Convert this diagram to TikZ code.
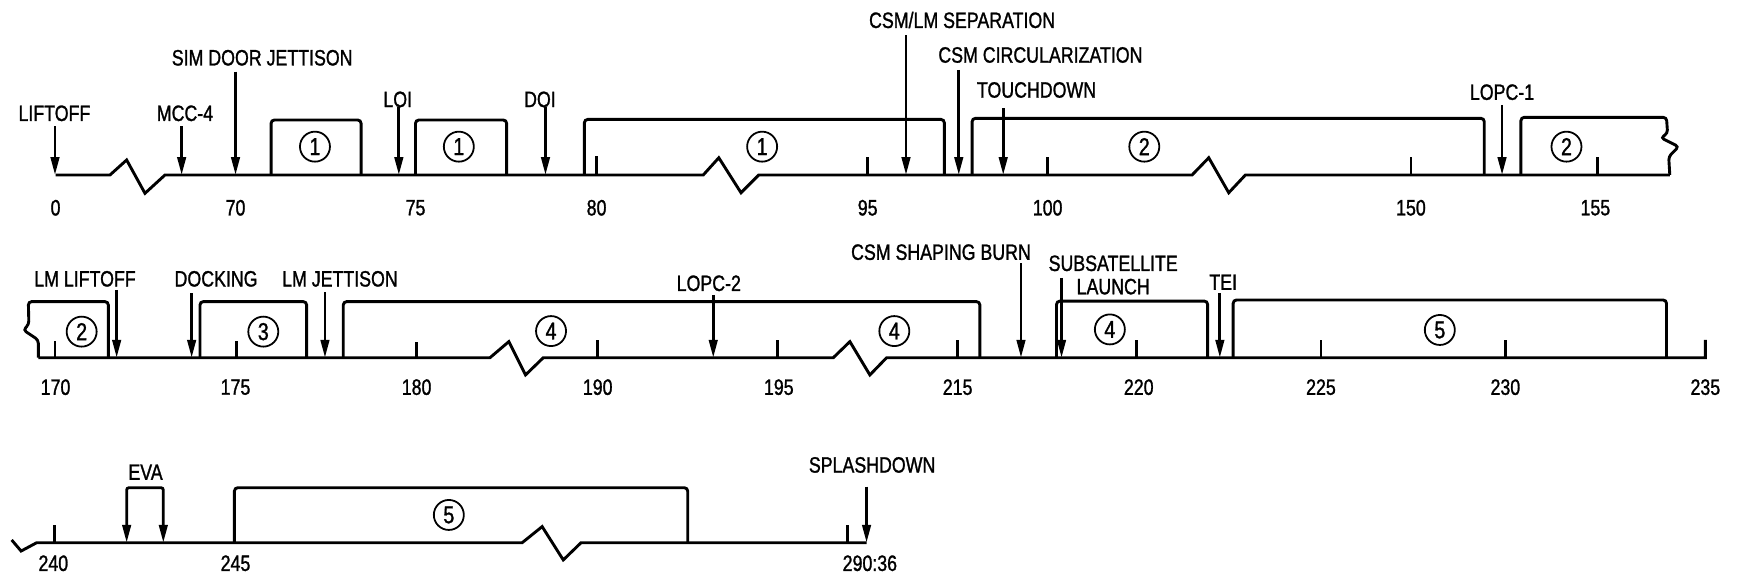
\documentclass[tikz,border=0pt]{standalone}
\usepackage{fontspec}
\setmainfont{Liberation Sans}[FakeStretch=0.8,FakeBold=1.2]
\usetikzlibrary{arrows.meta}
\tikzset{every picture/.style={line width=1.3pt}}
\tikzset{
evt/.style={line width=1.25pt,-{Triangle[length=8pt,width=3.8pt]}},
evtboth/.style={line width=1.25pt,{Triangle[length=8pt,width=3.8pt]}-{Triangle[length=8pt,width=3.8pt]}},
phase/.style={line width=1.3pt,rounded corners=1.5pt},
tickmark/.style={line width=1.1pt},
lbl/.style={font=\fontsize{10}{10.5}\selectfont,inner sep=1pt,align=center},
num/.style={font=\fontsize{10}{10}\selectfont,inner sep=1pt},
badge/.style={draw,circle,line width=0.8pt,minimum size=13.5pt,inner sep=0pt,font=\fontsize{11}{11}\selectfont}}

\begin{document}
\begin{tikzpicture}[x=0.5pt,y=0.5pt,yscale=-1,xscale=1]
\useasboundingbox (0,0) rectangle (1568,525.6);

% row baselines
\coordinate (r1) at (0,157.5);
\coordinate (r2) at (0,322);
\coordinate (r3) at (0,488.5);

%Shape: Axis row 1 [with breaks]
\draw (50,157.5) -- (99,157.5) -- (114,144) -- (130.5,174) -- (148.5,157.5) -- (633,157.5) -- (647,142) -- (667,173.5) -- (683,157.5) -- (1073,157.5) -- (1088,142) -- (1106,173.5) -- (1121,157.5) -- (1503,157.5) ;
%Shape: Axis row 2
\draw (34.5,322) -- (441,322) -- (458,307.5) -- (473,337.5) -- (489,322) -- (750,322) -- (765,307.5) -- (783,337.5) -- (798,322) -- (1535,322) -- (1535,306) ;
%Shape: Axis row 3
\draw (10.5,486) -- (19,496) -- (33,488.5) -- (470,488.5) -- (488,474) -- (507,504) -- (523,488.5) -- (780,488.5) ;

%Shape: Ticks
\draw[tickmark] (537,157.5) -- ++(0,-17) (781,157.5) -- ++(0,-16) (943,157.5) -- ++(0,-16) (1270,157.5) -- ++(0,-16) (1438,157.5) -- ++(0,-16) ;
\draw[tickmark] (49.5,322) -- ++(0,-15) (213,322) -- ++(0,-15) (375,322) -- ++(0,-14) (538,322) -- ++(0,-16) (700,322) -- ++(0,-16) (862,322) -- ++(0,-16) (1023,322) -- ++(0,-16) (1189,322) -- ++(0,-16) (1355,322) -- ++(0,-16) ;
\draw[tickmark] (49,488.5) -- ++(0,-16) (763,488.5) -- ++(0,-16) ;

%Shape: Phase boxes row 1
\draw[phase] (244,157.5) |- (325,108) -- (325,157.5) ;
\draw[phase] (374,157.5) |- (456,108) -- (456,157.5) ;
\draw[phase] (526,157.5) |- (850,107.5) -- (850,157.5) ;
\draw[phase] (875,157.5) |- (1336,106.5) -- (1336,157.5) ;
\draw[phase] (1369,157.5) |- (1500,105.6) -- (1501,120) -- (1495,124) -- (1511,132) -- (1502,141) -- (1503,157.5) ;
%Shape: Phase boxes row 2
\draw[phase] (97.5,322) |- (25.5,271.5) -- (26,292) -- (21,297) -- (34.5,306) -- (34.5,322) ;
\draw[phase] (180,322) |- (276,271.5) -- (276,322) ;
\draw[phase] (309,322) |- (882,271.5) -- (882,322) ;
\draw[phase] (951,322) |- (1087,271) -- (1087,322) ;
\draw[phase] (1110,322) |- (1500,270) -- (1500,322) ;
%Shape: Phase box row 3
\draw[phase] (211,488.5) |- (619,439) -- (619,488.5) ;

% Circled phase numbers
\node[badge] (p1a) at (283.5,132) {1};
\node[badge] (p1b) at (413,132) {1};
\node[badge] (p1c) at (686,132) {1};
\node[badge] (p2a) at (1030,132) {2};
\node[badge] (p2b) at (1410,132) {2};
\node[badge] (p2c) at (73.5,298.5) {2};
\node[badge] (p3) at (237,298.5) {3};
\node[badge] (p4a) at (496,298) {4};
\node[badge] (p4b) at (805,298) {4};
\node[badge] (p4c) at (999,296.5) {4};
\node[badge] (p5a) at (1296,297) {5};
\node[badge] (p5b) at (404,463.5) {5};

% Text Node
\node[lbl] (tLift) at (49,102) {LIFTOFF};
\node[lbl] (tMcc) at (166.5,102) {MCC-4};
\node[lbl] (tSim) at (236,52) {SIM DOOR JETTISON};
\node[lbl] (tLoi) at (358,89.5) {LOI};
\node[lbl] (tDoi) at (486,89.5) {DOI};
\node[lbl] (tSep) at (866,18) {CSM/LM SEPARATION};
\node[lbl] (tCirc) at (936.5,49.5) {CSM CIRCULARIZATION};
\node[lbl] (tTouch) at (933,81) {TOUCHDOWN};
\node[lbl] (tLopcA) at (1352,83) {LOPC-1};
\node[lbl] (tLmLift) at (76.5,251) {LM LIFTOFF};
\node[lbl] (tDock) at (194.5,251) {DOCKING};
\node[lbl] (tLmJet) at (306,251) {LM JETTISON};
\node[lbl] (tLopcB) at (638,255) {LOPC-2};
\node[lbl] (tShape) at (847,227) {CSM SHAPING BURN};
\node[lbl] (tSub) at (1002,247.5) {SUBSATELLITE\\LAUNCH};
\node[lbl] (tTei) at (1101,254) {TEI};
\node[lbl] (tEva) at (131,425) {EVA};
\node[lbl] (tSplash) at (785,418.5) {SPLASHDOWN};

% event arrow tops
\coordinate (aLift) at (49.5,113.5);
\coordinate (aMcc) at (163.5,113.5);
\coordinate (aSim) at (212,64.5);
\coordinate (aLoi) at (359,96.5);
\coordinate (aDoi) at (491,96.5);
\coordinate (aSep) at (815.5,31.5);
\coordinate (aCirc) at (863,63);
\coordinate (aTouch) at (903,97.5);
\coordinate (aLopcA) at (1352,94.5);
\coordinate (aLmLift) at (105,261);
\coordinate (aDock) at (172.5,264);
\coordinate (aLmJet) at (292.5,263);
\coordinate (aLopcB) at (642,265.5);
\coordinate (aShape) at (919,237);
\coordinate (aSub) at (955.5,250);
\coordinate (aTei) at (1098,264);
\coordinate (aSplash) at (780,438);
\coordinate (evaL) at (114,488.5);
\coordinate (evaR) at (147,488.5);

%Arrows row 1
\draw[evt] (aLift) -- (aLift |- r1) ;
\draw[evt] (aMcc) -- (aMcc |- r1) ;
\draw[evt] (aSim) -- (aSim |- r1) ;
\draw[evt] (aLoi) -- (aLoi |- r1) ;
\draw[evt] (aDoi) -- (aDoi |- r1) ;
\draw[evt] (aSep) -- (aSep |- r1) ;
\draw[evt] (aCirc) -- (aCirc |- r1) ;
\draw[evt] (aTouch) -- (aTouch |- r1) ;
\draw[evt] (aLopcA) -- (aLopcA |- r1) ;
%Arrows row 2
\draw[evt] (aLmLift) -- (aLmLift |- r2) ;
\draw[evt] (aDock) -- (aDock |- r2) ;
\draw[evt] (aLmJet) -- (aLmJet |- r2) ;
\draw[evt] (aLopcB) -- (aLopcB |- r2) ;
\draw[evt] (aShape) -- (aShape |- r2) ;
\draw[evt] (aSub) -- (aSub |- r2) ;
\draw[evt] (aTei) -- (aTei |- r2) ;
%Arrows row 3
\draw[evtboth,rounded corners=1pt] (evaL) |- (130.5,439) -| (evaR) ;
\draw[evt] (aSplash) -- (aSplash |- r3) ;

% Text Node: hour marks
\node[num] (n0) at (50,187) {0};
\node[num] (n70) at (212,187) {70};
\node[num] (n75) at (374,187) {75};
\node[num] (n80) at (537,187) {80};
\node[num] (n95) at (781,187) {95};
\node[num] (n100) at (943,187) {100};
\node[num] (n150) at (1270,187) {150};
\node[num] (n155) at (1436,187) {155};
\node[num] (n170) at (50,348.5) {170};
\node[num] (n175) at (212,348.5) {175};
\node[num] (n180) at (375,348.5) {180};
\node[num] (n190) at (538,348.5) {190};
\node[num] (n195) at (701,348.5) {195};
\node[num] (n215) at (862,348.5) {215};
\node[num] (n220) at (1025,348.5) {220};
\node[num] (n225) at (1189,348.5) {225};
\node[num] (n230) at (1355,348.5) {230};
\node[num] (n235) at (1535,348.5) {235};
\node[num] (n240) at (48,507) {240};
\node[num] (n245) at (212,507) {245};
\node[num] (n290) at (783,507) {290:36};

\end{tikzpicture}
\end{document}
